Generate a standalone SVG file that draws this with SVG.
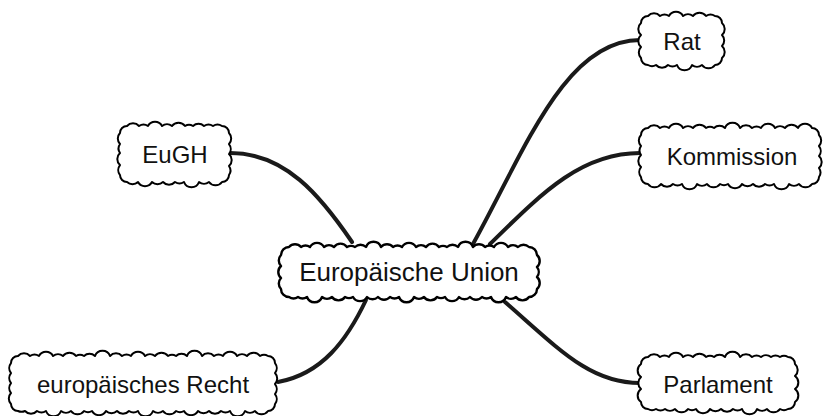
<svg xmlns="http://www.w3.org/2000/svg" width="823" height="416" viewBox="0 0 823 416">
<style>
.cloud{fill:#fff;stroke:#000;stroke-width:2;stroke-linejoin:round}
.main{stroke-width:2.4}
.lbl{font-family:"Liberation Sans",Arial,sans-serif;font-size:24px;fill:#111;text-anchor:middle;dominant-baseline:central}
.big{font-size:26px}
.conn{fill:none;stroke:#1a1a1a;stroke-width:4;stroke-linecap:round}
</style>
<rect width="823" height="416" fill="#fff"/>
<g id="connectors">
<path class="conn" d="M473 244 C525 150 565 40 640 40"/>
<path class="conn" d="M490 244 C540 195 580 153 640 153"/>
<path class="conn" d="M230 153 C285 153 320 195 352 242"/>
<path class="conn" d="M278 382 C322 374 347 340 366 300"/>
<path class="conn" d="M505 302 C560 350 590 383 640 383"/>
</g>
<g id="n-center">
<path class="cloud main" d="M289 247 a8 8 0 0 1 12 0 a8 8 0 0 1 9 0 a8 8 0 0 1 14 0 a8 8 0 0 1 10 0 a8 8 0 0 1 13 0 a8 8 0 0 1 8 0 a8 8 0 0 1 11 0 a8 8 0 0 1 15 0 a8 8 0 0 1 12 0 a8 8 0 0 1 9 0 a8 8 0 0 1 14 0 a8 8 0 0 1 10 0 a8 8 0 0 1 13 0 a8 8 0 0 1 8 0 a8 8 0 0 1 11 0 a8 8 0 0 1 15 0 a8 8 0 0 1 12 0 a8 8 0 0 1 9 0 a8 8 0 0 1 14 0 a8 8 0 0 1 10 0 a8 8 0 0 1 11 0 a8 8 0 0 1 8 8 a8 8 0 0 1 0 12 a8 8 0 0 1 0 10 a8 8 0 0 1 0 12 a8 8 0 0 1 -8 8 a8 8 0 0 1 -13 0 a8 8 0 0 1 -10 0 a8 8 0 0 1 -15 0 a8 8 0 0 1 -9 0 a8 8 0 0 1 -12 0 a8 8 0 0 1 -11 0 a8 8 0 0 1 -14 0 a8 8 0 0 1 -8 0 a8 8 0 0 1 -13 0 a8 8 0 0 1 -10 0 a8 8 0 0 1 -15 0 a8 8 0 0 1 -9 0 a8 8 0 0 1 -12 0 a8 8 0 0 1 -11 0 a8 8 0 0 1 -14 0 a8 8 0 0 1 -8 0 a8 8 0 0 1 -13 0 a8 8 0 0 1 -10 0 a8 8 0 0 1 -15 0 a8 8 0 0 1 -9 0 a8 8 0 0 1 -9 0 a8 8 0 0 1 -8 -8 a8 8 0 0 1 0 -11 a8 8 0 0 1 0 -12 a8 8 0 0 1 0 -11 a8 8 0 0 1 8 -8 Z"/>
<text class="lbl big" x="409" y="272">Europäische Union</text>
</g>
<g id="n-rat">
<path class="cloud" d="M648 16 a8 8 0 0 1 12 0 a8 8 0 0 1 9 0 a8 8 0 0 1 14 0 a8 8 0 0 1 10 0 a8 8 0 0 1 13 0 a8 8 0 0 1 9 0 a7 7 0 0 1 7 7 a8 8 0 0 1 0 12 a8 8 0 0 1 0 11 a8 8 0 0 1 0 12 a7 7 0 0 1 -7 7 a8 8 0 0 1 -13 0 a8 8 0 0 1 -10 0 a8 8 0 0 1 -15 0 a8 8 0 0 1 -9 0 a8 8 0 0 1 -12 0 a8 8 0 0 1 -8 0 a7 7 0 0 1 -7 -7 a8 8 0 0 1 0 -11 a8 8 0 0 1 0 -12 a8 8 0 0 1 0 -12 a7 7 0 0 1 7 -7 Z"/>
<text class="lbl" x="682" y="41">Rat</text>
</g>
<g id="n-eugh">
<path class="cloud" d="M127 126 a8 8 0 0 1 12 0 a8 8 0 0 1 9 0 a8 8 0 0 1 14 0 a8 8 0 0 1 10 0 a8 8 0 0 1 13 0 a8 8 0 0 1 8 0 a8 8 0 0 1 11 0 a8 8 0 0 1 9 0 a8 8 0 0 1 9 0 a7 7 0 0 1 7 7 a8 8 0 0 1 0 11 a8 8 0 0 1 0 10 a8 8 0 0 1 0 12 a8 8 0 0 1 0 9 a7 7 0 0 1 -7 7 a8 8 0 0 1 -13 0 a8 8 0 0 1 -10 0 a8 8 0 0 1 -15 0 a8 8 0 0 1 -9 0 a8 8 0 0 1 -12 0 a8 8 0 0 1 -11 0 a8 8 0 0 1 -14 0 a8 8 0 0 1 -11 0 a7 7 0 0 1 -7 -7 a8 8 0 0 1 0 -10 a8 8 0 0 1 0 -12 a8 8 0 0 1 0 -9 a8 8 0 0 1 0 -11 a7 7 0 0 1 7 -7 Z"/>
<text class="lbl" x="175" y="154">EuGH</text>
</g>
<g id="n-kommission">
<path class="cloud" d="M648 128 a8 8 0 0 1 12 0 a8 8 0 0 1 9 0 a8 8 0 0 1 14 0 a8 8 0 0 1 10 0 a8 8 0 0 1 13 0 a8 8 0 0 1 8 0 a8 8 0 0 1 11 0 a8 8 0 0 1 15 0 a8 8 0 0 1 12 0 a8 8 0 0 1 9 0 a8 8 0 0 1 14 0 a8 8 0 0 1 10 0 a8 8 0 0 1 13 0 a8 8 0 0 1 14 0 a7 7 0 0 1 7 7 a8 8 0 0 1 0 11 a8 8 0 0 1 0 10 a8 8 0 0 1 0 12 a8 8 0 0 1 0 9 a7 7 0 0 1 -7 7 a8 8 0 0 1 -13 0 a8 8 0 0 1 -10 0 a8 8 0 0 1 -15 0 a8 8 0 0 1 -9 0 a8 8 0 0 1 -12 0 a8 8 0 0 1 -11 0 a8 8 0 0 1 -14 0 a8 8 0 0 1 -8 0 a8 8 0 0 1 -13 0 a8 8 0 0 1 -10 0 a8 8 0 0 1 -15 0 a8 8 0 0 1 -9 0 a8 8 0 0 1 -12 0 a8 8 0 0 1 -13 0 a7 7 0 0 1 -7 -7 a8 8 0 0 1 0 -10 a8 8 0 0 1 0 -12 a8 8 0 0 1 0 -9 a8 8 0 0 1 0 -11 a7 7 0 0 1 7 -7 Z"/>
<text class="lbl" x="732" y="156">Kommission</text>
</g>
<g id="n-recht">
<path class="cloud" d="M18 356 a8 8 0 0 1 12 0 a8 8 0 0 1 9 0 a8 8 0 0 1 14 0 a8 8 0 0 1 10 0 a8 8 0 0 1 13 0 a8 8 0 0 1 8 0 a8 8 0 0 1 11 0 a8 8 0 0 1 15 0 a8 8 0 0 1 12 0 a8 8 0 0 1 9 0 a8 8 0 0 1 14 0 a8 8 0 0 1 10 0 a8 8 0 0 1 13 0 a8 8 0 0 1 8 0 a8 8 0 0 1 11 0 a8 8 0 0 1 15 0 a8 8 0 0 1 12 0 a8 8 0 0 1 9 0 a8 8 0 0 1 14 0 a8 8 0 0 1 10 0 a8 8 0 0 1 13 0 a8 8 0 0 1 8 0 a7 7 0 0 1 7 7 a8 8 0 0 1 0 10 a8 8 0 0 1 0 11 a8 8 0 0 1 0 10 a8 8 0 0 1 0 10 a7 7 0 0 1 -7 7 a8 8 0 0 1 -13 0 a8 8 0 0 1 -10 0 a8 8 0 0 1 -15 0 a8 8 0 0 1 -9 0 a8 8 0 0 1 -12 0 a8 8 0 0 1 -11 0 a8 8 0 0 1 -14 0 a8 8 0 0 1 -8 0 a8 8 0 0 1 -13 0 a8 8 0 0 1 -10 0 a8 8 0 0 1 -15 0 a8 8 0 0 1 -9 0 a8 8 0 0 1 -12 0 a8 8 0 0 1 -11 0 a8 8 0 0 1 -14 0 a8 8 0 0 1 -8 0 a8 8 0 0 1 -13 0 a8 8 0 0 1 -10 0 a8 8 0 0 1 -15 0 a8 8 0 0 1 -9 0 a8 8 0 0 1 -12 0 a8 8 0 0 1 -7 0 a7 7 0 0 1 -7 -7 a8 8 0 0 1 0 -11 a8 8 0 0 1 0 -10 a8 8 0 0 1 0 -10 a8 8 0 0 1 0 -10 a7 7 0 0 1 7 -7 Z"/>
<text class="lbl" x="143" y="384">europäisches Recht</text>
</g>
<g id="n-parlament">
<path class="cloud" d="M648 357 a8 8 0 0 1 12 0 a8 8 0 0 1 9 0 a8 8 0 0 1 14 0 a8 8 0 0 1 10 0 a8 8 0 0 1 13 0 a8 8 0 0 1 8 0 a8 8 0 0 1 11 0 a8 8 0 0 1 15 0 a8 8 0 0 1 12 0 a8 8 0 0 1 9 0 a8 8 0 0 1 10 0 a8 8 0 0 1 9 0 a8 8 0 0 1 8 0 a7 7 0 0 1 7 7 a8 8 0 0 1 0 12 a8 8 0 0 1 0 13 a8 8 0 0 1 0 13 a7 7 0 0 1 -7 7 a8 8 0 0 1 -8 0 a8 8 0 0 1 -13 0 a8 8 0 0 1 -10 0 a8 8 0 0 1 -15 0 a8 8 0 0 1 -9 0 a8 8 0 0 1 -12 0 a8 8 0 0 1 -11 0 a8 8 0 0 1 -14 0 a8 8 0 0 1 -8 0 a8 8 0 0 1 -13 0 a8 8 0 0 1 -10 0 a8 8 0 0 1 -9 0 a8 8 0 0 1 -8 0 a7 7 0 0 1 -7 -7 a8 8 0 0 1 0 -13 a8 8 0 0 1 0 -12 a8 8 0 0 1 0 -13 a7 7 0 0 1 7 -7 Z"/>
<text class="lbl" x="718" y="384">Parlament</text>
</g>
</svg>
